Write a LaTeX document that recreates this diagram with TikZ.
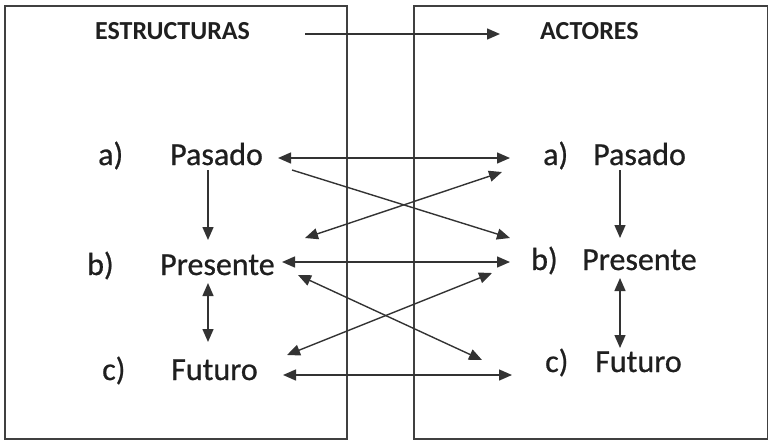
\documentclass[tikz,border=0pt]{standalone}
\usepackage{fontspec}
\setmainfont{Carlito}
\newfontfamily\lblfont{Carlito}[FakeBold=0.7]
\usetikzlibrary{arrows.meta}
\begin{document}
\begin{tikzpicture}[x=1pt,y=-1pt,
  lbl/.style={anchor=base west,inner sep=0pt,font=\lblfont\fontsize{32}{36}\selectfont,text=black!88},
  hdr/.style={anchor=base west,inner sep=0pt,font=\bfseries\fontsize{26}{32}\selectfont,text=black!88},
  con/.style={line width=1.4pt,draw=black!80,-{Triangle[length=13pt,width=11pt]}},
  con2/.style={line width=1.4pt,draw=black!80,{Triangle[length=13pt,width=11pt]}-{Triangle[length=13pt,width=11pt]}},
  box/.style={draw=black!75,line width=1.5pt,inner sep=0pt,anchor=north west}]
\useasboundingbox (0,0) rectangle (768,442);
\node[box,minimum width=342pt,minimum height=433pt] (boxL) at (4,5) {};
\node[box,minimum width=354pt,minimum height=433pt] (boxR) at (413,5) {};
% headers
\node[hdr] (est) at (95,39) {ESTRUCTURAS};
\node[hdr] (act) at (540,39) {ACTORES};
% left column
\node[lbl] (aL) at (98,165) {a)};
\node[lbl] (pasL) at (170,165) {Pasado};
\node[lbl] (bL) at (87,275) {b)};
\node[lbl] (preL) at (160,275) {Presente};
\node[lbl] (cL) at (102,380) {c)};
\node[lbl] (futL) at (171,380) {Futuro};
% right column
\node[lbl] (aR) at (543,165) {a)};
\node[lbl] (pasR) at (593,165) {Pasado};
\node[lbl] (bR) at (531,270) {b)};
\node[lbl] (preR) at (582,270) {Presente};
\node[lbl] (cR) at (545,372) {c)};
\node[lbl] (futR) at (595,372) {Futuro};
% connector end points
\coordinate (top1) at (305,34);
\coordinate (top2) at (500,34);
\coordinate (pasLe) at (278,158);
\coordinate (aRw) at (510,158);
\coordinate (pasLse) at (292,170);
\coordinate (preRnw) at (510,238);
\coordinate (preLne) at (305,238);
\coordinate (aRsw) at (502,172);
\coordinate (preLe) at (282,262);
\coordinate (bRw) at (510,262);
\coordinate (preLse) at (298,275);
\coordinate (cRnw) at (482,360);
\coordinate (futLne) at (287,355);
\coordinate (bRsw) at (492,273);
\coordinate (futLe) at (283,375);
\coordinate (cRw) at (512,375);
\coordinate (vL1a) at (208,170);
\coordinate (vL1b) at (208,240);
\coordinate (vL2a) at (208,283);
\coordinate (vL2b) at (208,342);
\coordinate (vR1a) at (620,170);
\coordinate (vR1b) at (620,238);
\coordinate (vR2a) at (620,278);
\coordinate (vR2b) at (620,348);
% connectors
\draw[con] (top1) -- (top2);
\draw[con2] (pasLe) -- (aRw);
\draw[con] (pasLse) -- (preRnw);
\draw[con2] (preLne) -- (aRsw);
\draw[con2] (preLe) -- (bRw);
\draw[con2] (preLse) -- (cRnw);
\draw[con2] (futLne) -- (bRsw);
\draw[con2] (futLe) -- (cRw);
\draw[con] (vL1a) -- (vL1b);
\draw[con2] (vL2a) -- (vL2b);
\draw[con] (vR1a) -- (vR1b);
\draw[con2] (vR2a) -- (vR2b);
\end{tikzpicture}
\end{document}
